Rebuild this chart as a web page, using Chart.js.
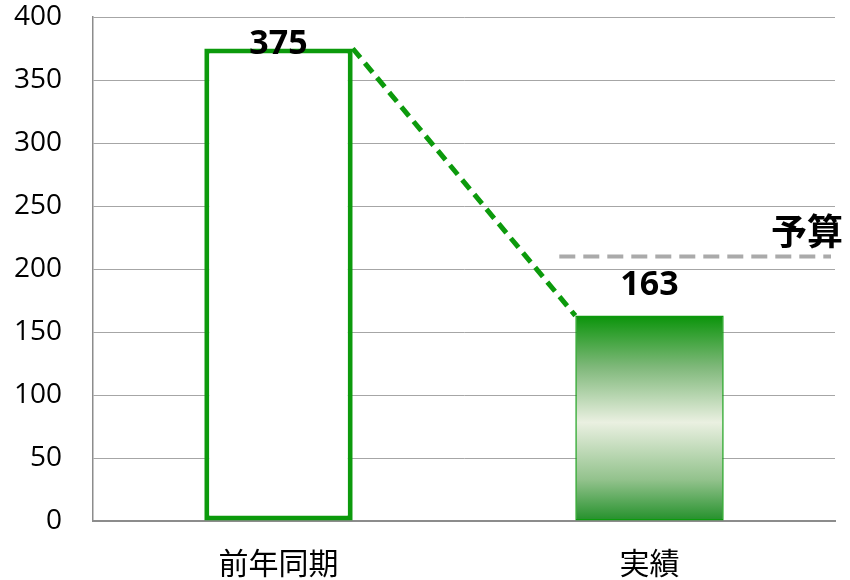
<!DOCTYPE html>
<html>
<head>
<meta charset="utf-8">
<script src="https://cdn.jsdelivr.net/npm/chart.js@4.4.1/dist/chart.umd.min.js"></script>
<style>
  html, body { margin: 0; padding: 0; background: #fff; }
  #wrap { width: 850px; height: 580px; }
</style>
</head>
<body>
<div id="wrap"><canvas id="chart" width="850" height="580"></canvas></div>
<script>
const categories = ['前年同期', '実績'];
const values = [375, 163];
const budget = 210;
const budgetLabel = '予算';
const yTicks = { min: 0, max: 400, step: 50 };

const GREEN = '#0c9a0c';
const FONT = "'Open Sans', 'Noto Sans CJK JP', sans-serif";
const JP_FONT = "'Noto Sans CJK JP', 'Open Sans', sans-serif";

// gradient fill for the second bar, built from the y scale
function barFill(ctx) {
  if (ctx.dataIndex === 0) return '#ffffff';
  const chart = ctx.chart;
  const y = chart.scales.y;
  if (!chart.chartArea || !y) return GREEN;
  const top = y.getPixelForValue(values[ctx.dataIndex]);
  const bottom = y.getPixelForValue(0);
  const g = chart.ctx.createLinearGradient(0, top, 0, bottom);
  g.addColorStop(0, '#0a940a');
  g.addColorStop(0.25, '#7fb87a');
  g.addColorStop(0.52, '#eaf0e1');
  g.addColorStop(0.8, '#92c28c');
  g.addColorStop(1, '#23902a');
  return g;
}

const overlay = {
  id: 'overlay',
  afterDatasetsDraw(chart) {
    const ctx = chart.ctx;
    const area = chart.chartArea;
    const y = chart.scales.y;
    const bars = chart.getDatasetMeta(0).data;
    const b0 = bars[0], b1 = bars[1];

    ctx.save();
    // connector between the two bar tops
    ctx.strokeStyle = GREEN;
    ctx.lineWidth = 5;
    ctx.setLineDash([12, 7]);
    ctx.beginPath();
    ctx.moveTo(b0.x + b0.width / 2, b0.y);
    ctx.lineTo(b1.x - b1.width / 2, b1.y);
    ctx.stroke();

    // budget line
    const by = y.getPixelForValue(budget);
    ctx.strokeStyle = '#aaaaaa';
    ctx.lineWidth = 4;
    ctx.setLineDash([16, 8]);
    ctx.beginPath();
    ctx.moveTo(b1.x - b1.width / 2 - 16, by);
    ctx.lineTo(area.right - 4, by);
    ctx.stroke();
    ctx.setLineDash([]);

    ctx.fillStyle = '#000';
    ctx.font = 'bold 36px ' + JP_FONT;
    ctx.textAlign = 'right';
    ctx.textBaseline = 'alphabetic';
    ctx.fillText(budgetLabel, area.right + 8, by - 11);

    // value labels
    ctx.font = 'bold 34px ' + FONT;
    ctx.textAlign = 'center';
    bars.forEach((bar, i) => {
      const ly = Math.max(bar.y - 21, area.top + 37);
      ctx.fillText(String(values[i]), bar.x, ly);
    });
    ctx.restore();
  }
};

new Chart(document.getElementById('chart'), {
  type: 'bar',
  data: {
    labels: categories,
    datasets: [{
      data: values,
      backgroundColor: barFill,
      borderColor: GREEN,
      borderWidth: (ctx) => ctx.dataIndex === 0 ? 5 : 1.5,
      borderSkipped: false,
      barPercentage: 0.4,
      categoryPercentage: 1.0
    }]
  },
  options: {
    responsive: false,
    animation: false,
    devicePixelRatio: 1,
    layout: { padding: { top: 17, right: 15, left: 0, bottom: 0 } },
    plugins: {
      legend: { display: false },
      tooltip: { enabled: false },
      title: { display: false }
    },
    scales: {
      x: {
        grid: { display: false },
        border: { display: true, color: '#8c8c8c', width: 2 },
        ticks: {
          color: '#000',
          font: { family: JP_FONT, size: 30 },
          padding: 16
        },
        afterFit(scale) {
          scale.height = 59;
          scale.paddingLeft = 0;
          scale.paddingRight = 0;
        }
      },
      y: {
        min: yTicks.min,
        max: yTicks.max,
        grid: { color: '#a6a6a6', lineWidth: 1, drawTicks: false },
        border: { display: true, color: '#8c8c8c', width: 1.5 },
        ticks: {
          stepSize: yTicks.step,
          color: '#000',
          font: { family: FONT, size: 28 },
          padding: 31
        },
        afterFit(scale) {
          scale.width = 93;
          scale.paddingTop = 0;
          scale.paddingBottom = 0;
        }
      }
    }
  },
  plugins: [overlay]
});
</script>
</body>
</html>
